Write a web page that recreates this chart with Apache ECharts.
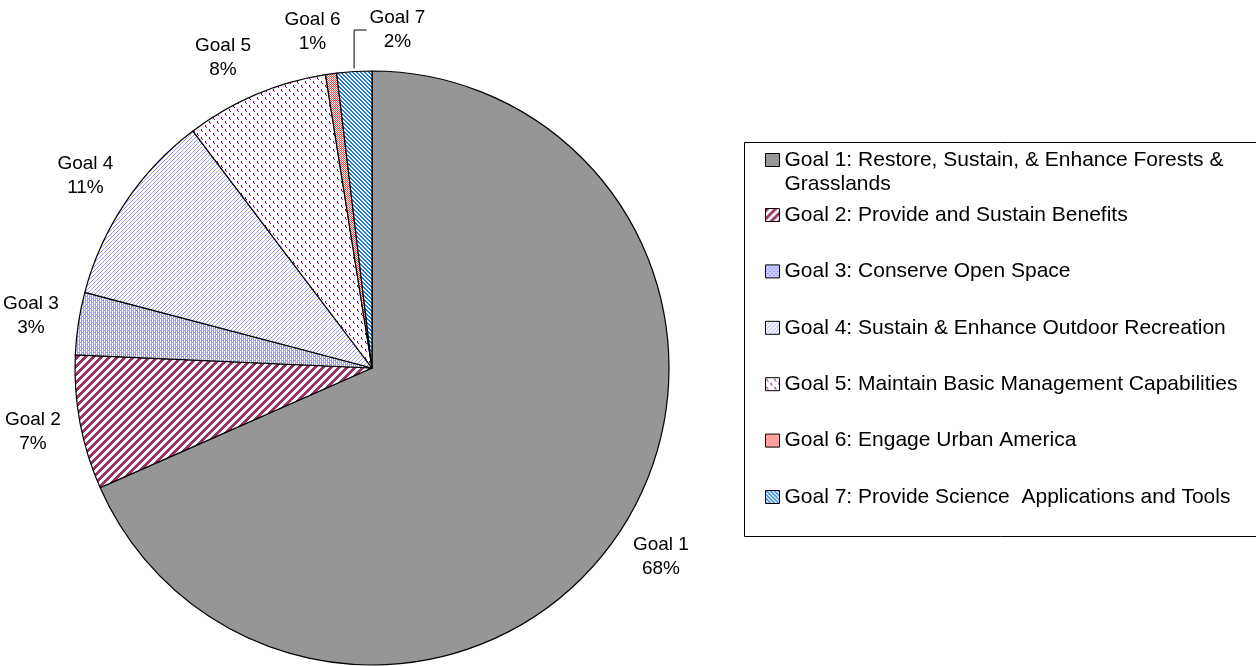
<!DOCTYPE html>
<html>
<head>
<meta charset="utf-8">
<script src="https://cdn.jsdelivr.net/npm/echarts@6/dist/echarts.min.js"></script>
<style>
html,body{margin:0;padding:0;background:#fff;}
#chart{width:1256px;height:666px;}
</style>
</head>
<body>
<div id="chart"></div>
<script>
// ---- data ----
var shortNames = ['Goal 1', 'Goal 2', 'Goal 3', 'Goal 4', 'Goal 5', 'Goal 6', 'Goal 7'];
var legendNames = [
  'Goal 1: Restore, Sustain, & Enhance Forests & Grasslands',
  'Goal 2: Provide and Sustain Benefits',
  'Goal 3: Conserve Open Space',
  'Goal 4: Sustain & Enhance Outdoor Recreation',
  'Goal 5: Maintain Basic Management Capabilities',
  'Goal 6: Engage Urban America',
  'Goal 7: Provide Science  Applications and Tools'
];
var values = [68.4, 7.3, 3.4, 10.6, 7.8, 0.6, 1.9];

// ---- layout constants ----
var CX = 372, CY = 368, R = 297, LABEL_R = 342;
var FONT = '"Liberation Sans", Arial, sans-serif';
// label nudges (Excel-style collision avoidance near the top)
var labelShift = { 4: [-14, 7], 5: [-12, 5], 6: [46, 6] };

// ---- fill patterns ----
function tile(size, color, test) {
  var c = document.createElement('canvas');
  c.width = size; c.height = size;
  var g = c.getContext('2d');
  g.fillStyle = '#fff'; g.fillRect(0, 0, size, size);
  g.fillStyle = color;
  for (var y = 0; y < size; y++) for (var x = 0; x < size; x++) {
    if (test(x, y)) g.fillRect(x, y, 1, 1);
  }
  return { image: c, repeat: 'repeat' };
}
var fills = [
  '#969696',
  tile(8, '#993366', function (x, y) { return ((x + y) % 8) < 4; }),
  tile(4, '#9999FF', function (x, y) { return !((x % 4 === 0 && y % 4 === 0) || (x % 4 === 2 && y % 4 === 2)) && ((x + y) % 2 === 0 || (x % 2 === 1 && y % 2 === 0)); }),
  tile(4, '#9999FF', function (x, y) { return ((x + y) % 4) === 0; }),
  tile(8, '#800080', function (x, y) { return (x === 1 && (y === 1 || y === 2)) || (x === 2 && y === 3) || (x === 5 && (y === 5 || y === 6)) || (x === 6 && y === 7); }),
  tile(2, '#FF4040', function (x, y) { return ((x + y) % 2) === 0; }),
  tile(4, '#1F7BD8', function (x, y) { return ((x - y + 8) % 4) < 2; })
];

var pieData = values.map(function (v, i) {
  return { name: legendNames[i], value: v, itemStyle: { color: fills[i] } };
});
var labelData = values.map(function (v, i) {
  return { name: shortNames[i], value: v };
});

// Goal 7 leader line, derived from the slice angle and the label placement
var total = values.reduce(function (a, b) { return a + b; }, 0);
var cum = 0;
for (var i = 0; i < 6; i++) cum += values[i];
var midA = (cum + values[6] / 2) / total * 2 * Math.PI;
var mctx = document.createElement('canvas').getContext('2d');
mctx.font = '19px ' + FONT;
var g7w = mctx.measureText(shortNames[6]).width;
var p0x = CX + (R + 3) * Math.sin(midA), p0y = CY - (R + 3) * Math.cos(midA);
var ly = CY - LABEL_R * Math.cos(midA) + labelShift[6][1] - 2.6;
var lx = CX + LABEL_R * Math.sin(midA) + labelShift[6][0] - g7w / 2 - 3;

var chart = echarts.init(document.getElementById('chart'), null, { renderer: 'canvas' });
chart.setOption({
  backgroundColor: '#fff',
  animation: false,
  textStyle: { fontFamily: FONT },
  legend: [
    {
      orient: 'vertical', left: 765, top: 124, padding: 0,
      icon: 'rect', itemWidth: 14, itemHeight: 13,
      itemStyle: { borderColor: '#000', borderWidth: 1 },
      data: [legendNames[0]],
      selectedMode: false,
      formatter: function (n) { return '\n' + n.replace('& Grasslands', '&\nGrasslands'); },
      textStyle: { fontSize: 21, lineHeight: 24, color: '#000', fontFamily: FONT }
    },
    {
      orient: 'vertical', left: 765, top: 203, padding: 0,
      icon: 'rect', itemWidth: 14, itemHeight: 13, itemGap: 32.4,
      itemStyle: { borderColor: '#000', borderWidth: 1 },
      data: legendNames.slice(1),
      selectedMode: false,
      textStyle: { fontSize: 21, lineHeight: 24, color: '#000', fontFamily: FONT }
    }
  ],
  graphic: [
    { type: 'rect', silent: true, z: -1, shape: { x: 744.5, y: 142.5, width: 530, height: 394 },
      style: { fill: 'none', stroke: '#000', lineWidth: 1 } },
    { type: 'polyline', silent: true, shape: { points: [[p0x, p0y], [p0x, ly], [lx, ly]] },
      style: { fill: 'none', stroke: '#000', lineWidth: 1 } }
  ],
  series: [
    {
      type: 'pie', center: [CX, CY], radius: R, startAngle: 90, clockwise: true,
      data: pieData, label: { show: false }, labelLine: { show: false },
      itemStyle: { borderColor: '#000', borderWidth: 1.2 },
      emphasis: { disabled: true }, silent: true
    },
    {
      type: 'pie', center: [CX, CY], radius: [LABEL_R - 22, LABEL_R + 22], startAngle: 90, clockwise: true,
      percentPrecision: 0,
      data: labelData,
      itemStyle: { color: 'rgba(0,0,0,0)', borderWidth: 0 },
      label: { show: true, position: 'inside', formatter: '{b}\n{d}%', color: '#000',
               fontSize: 19, lineHeight: 24, fontFamily: FONT, align: 'center' },
      labelLine: { show: false },
      labelLayout: function (p) {
        var s = labelShift[p.dataIndex];
        return s ? { dx: s[0], dy: s[1] } : {};
      },
      emphasis: { disabled: true }, silent: true
    }
  ]
});
</script>
</body>
</html>
